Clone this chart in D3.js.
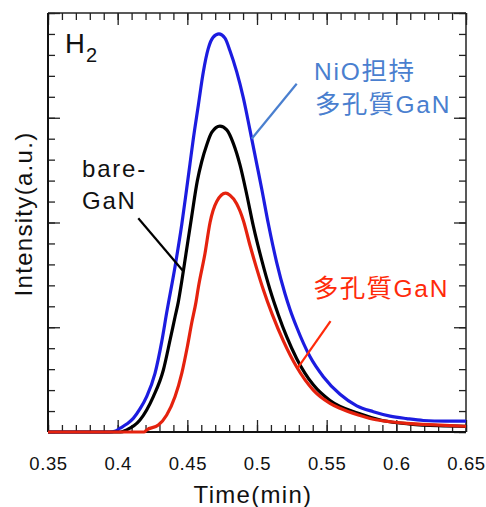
<!DOCTYPE html>
<html>
<head>
<meta charset="utf-8">
<script src="https://cdn.jsdelivr.net/npm/d3@7"></script>
<style>
  html, body { margin: 0; padding: 0; background: #fff; }
  svg { display: block; }
  text { font-family: "Liberation Sans", Arial, "Noto Sans CJK JP", sans-serif; }
</style>
</head>
<body>
<svg id="chart" width="486" height="507"></svg>
<script>
// H2 desorption profiles: [time (min), intensity (a.u.)]
const nioPorousGaN = [
  [0.35, 0], [0.394, 0], [0.3985, 0.05], [0.4017, 0.18], [0.4065, 0.38], [0.4112, 0.65],
  [0.416, 1.1], [0.4208, 1.69], [0.4268, 2.8], [0.4316, 4.3], [0.4352, 5.7], [0.4412, 7.9],
  [0.446, 9.9], [0.4495, 11.6], [0.4519, 12.8], [0.4543, 14.0], [0.4579, 15.6], [0.4615, 17.2],
  [0.465, 18.3], [0.4686, 18.85], [0.4727, 19.0], [0.477, 18.8], [0.4806, 18.2], [0.4854, 17.2],
  [0.4902, 15.95], [0.495, 14.4], [0.4998, 12.8], [0.5034, 11.6], [0.5081, 9.95], [0.5141, 8.1],
  [0.5201, 6.6], [0.5237, 5.85], [0.5285, 5.0], [0.538, 3.6], [0.5476, 2.64], [0.5596, 1.8],
  [0.5716, 1.25], [0.5835, 0.97], [0.5955, 0.76], [0.6074, 0.64], [0.6194, 0.55], [0.635, 0.52],
  [0.65, 0.52]
];
const bareGaN = [
  [0.35, 0], [0.402, 0], [0.4065, 0.1], [0.416, 0.57], [0.4256, 1.69], [0.4328, 2.96],
  [0.4376, 4.39], [0.4412, 5.5], [0.4435, 6.2], [0.446, 7.2], [0.449, 8.5], [0.4531, 10.28],
  [0.4572, 12.0], [0.4603, 12.9], [0.4639, 13.7], [0.4675, 14.3], [0.4734, 14.6], [0.4783, 14.42],
  [0.483, 13.78], [0.4878, 12.75], [0.4926, 11.35], [0.4973, 9.85], [0.5034, 8.2], [0.5093, 6.8],
  [0.5153, 5.6], [0.5213, 4.55], [0.5285, 3.5], [0.5404, 2.25], [0.5524, 1.5], [0.5727, 0.89],
  [0.59, 0.55], [0.61, 0.38], [0.63, 0.3], [0.65, 0.27]
];
const porousGaN = [
  [0.35, 0], [0.419, 0], [0.4208, 0.1], [0.4292, 0.33], [0.4352, 0.81], [0.4412, 1.69],
  [0.446, 2.8], [0.45, 4.07], [0.4531, 5.19], [0.4562, 6.2], [0.4579, 6.9], [0.4627, 8.53],
  [0.4663, 10.0], [0.4711, 11.0], [0.4775, 11.4], [0.4806, 11.3], [0.4854, 10.9], [0.4878, 10.55],
  [0.4902, 10.1], [0.495, 8.9], [0.4998, 7.8], [0.5045, 6.8], [0.511, 5.6], [0.5189, 4.35],
  [0.5285, 3.1], [0.5404, 2.0], [0.5524, 1.37], [0.5596, 1.13], [0.5727, 0.81], [0.5835, 0.61],
  [0.5955, 0.49], [0.6074, 0.41], [0.6313, 0.33], [0.65, 0.27]
];

const xMajorTicks = [0.35, 0.4, 0.45, 0.5, 0.55, 0.6, 0.65];
const xTickLabels = ["0.35", "0.4", "0.45", "0.5", "0.55", "0.6", "0.65"];
const xMinorTicks = d3.range(35, 66).map(d => d / 100);
const yMajorTicks = [0, 5, 10, 15, 20];
const yMinorTicks = d3.range(0, 21);

const svg = d3.select("#chart");
const margin = { left: 48, top: 13, right: 20, bottom: 75 };
const W = 486 - margin.left - margin.right;
const H = 507 - margin.top - margin.bottom;

const x = d3.scaleLinear().domain([0.35, 0.65]).range([0, W]);
const y = d3.scaleLinear().domain([0, 20]).range([H, 0]);

const g = svg.append("g").attr("transform", `translate(${margin.left},${margin.top})`);

// inward-pointing ticks on all four sides
function styleAxis(sel) {
  sel.select(".domain").remove();
  sel.selectAll(".tick line").attr("stroke", "#222").attr("stroke-width", 1.3);
}
const majorLen = 12, minorLen = 7;
g.append("g").attr("transform", `translate(0,${H})`)
  .call(d3.axisBottom(x).tickValues(xMinorTicks).tickSizeInner(-minorLen).tickSizeOuter(0).tickFormat(""))
  .call(styleAxis);
const xAxis = g.append("g").attr("transform", `translate(0,${H})`)
  .call(d3.axisBottom(x).tickValues(xMajorTicks).tickSizeInner(-majorLen).tickSizeOuter(0)
    .tickPadding(25).tickFormat((d, i) => xTickLabels[i]))
  .call(styleAxis);
xAxis.selectAll(".tick text")
  .attr("font-size", 18.5).attr("fill", "#111").attr("letter-spacing", "0.6px")
  .style("font-family", '"Liberation Sans", Arial, sans-serif');

g.append("g")
  .call(d3.axisTop(x).tickValues(xMinorTicks).tickSizeInner(-minorLen).tickSizeOuter(0).tickFormat(""))
  .call(styleAxis);
g.append("g")
  .call(d3.axisTop(x).tickValues(xMajorTicks).tickSizeInner(-majorLen).tickSizeOuter(0).tickFormat(""))
  .call(styleAxis);

g.append("g")
  .call(d3.axisLeft(y).tickValues(yMinorTicks).tickSizeInner(-minorLen).tickSizeOuter(0).tickFormat(""))
  .call(styleAxis);
g.append("g")
  .call(d3.axisLeft(y).tickValues(yMajorTicks).tickSizeInner(-majorLen).tickSizeOuter(0).tickFormat(""))
  .call(styleAxis);
g.append("g").attr("transform", `translate(${W},0)`)
  .call(d3.axisRight(y).tickValues(yMinorTicks).tickSizeInner(-minorLen).tickSizeOuter(0).tickFormat(""))
  .call(styleAxis);
g.append("g").attr("transform", `translate(${W},0)`)
  .call(d3.axisRight(y).tickValues(yMajorTicks).tickSizeInner(-majorLen).tickSizeOuter(0).tickFormat(""))
  .call(styleAxis);

// plot frame
g.append("line").attr("x1", 0).attr("x2", W).attr("y1", 0).attr("y2", 0)
  .attr("stroke", "#222").attr("stroke-width", 1.3);
g.append("line").attr("x1", W).attr("x2", W).attr("y1", 0).attr("y2", H)
  .attr("stroke", "#222").attr("stroke-width", 1.5);
g.append("line").attr("x1", 0).attr("x2", 0).attr("y1", 0).attr("y2", H)
  .attr("stroke", "#111").attr("stroke-width", 2);
g.append("line").attr("x1", 0).attr("x2", W).attr("y1", H).attr("y2", H)
  .attr("stroke", "#111").attr("stroke-width", 2);

// curves
const line = d3.line().x(d => x(d[0])).y(d => y(d[1])).curve(d3.curveMonotoneX);
const series = [
  { data: nioPorousGaN, color: "#1c1ce0" },
  { data: bareGaN, color: "#000000" },
  { data: porousGaN, color: "#e5220e" }
];
g.selectAll("path.curve").data(series).enter().append("path")
  .attr("class", "curve")
  .attr("d", d => line(d.data))
  .attr("fill", "none")
  .attr("stroke", d => d.color)
  .attr("stroke-width", 3.2)
  .attr("stroke-linejoin", "round");

// leader lines: each ends on its curve at time t
function valueAt(data, t) {
  for (let i = 1; i < data.length; i++) {
    if (data[i][0] >= t) {
      const [t0, v0] = data[i - 1], [t1, v1] = data[i];
      return v0 + (v1 - v0) * (t - t0) / (t1 - t0);
    }
  }
  return data[data.length - 1][1];
}
function leader(data, t, dx, dy, color) {
  const px = x(t), py = y(valueAt(data, t));
  g.append("line").attr("x1", px + dx).attr("y1", py + dy).attr("x2", px).attr("y2", py)
    .attr("stroke", color).attr("stroke-width", 2.2);
}
leader(nioPorousGaN, 0.4962, 45, -55, "#4a7fcf");
leader(bareGaN, 0.4471, -45, -53, "#000");
leader(porousGaN, 0.5291, 33, -47, "#ff2a0a");

// labels: Latin runs and CJK runs sized separately
const labelFont = '"Liberation Sans", Arial, "Noto Sans CJK JP", sans-serif';
function label(txt, px, py, size, color) {
  const t = svg.append("text").attr("x", px).attr("y", py).attr("fill", color)
    .style("font-family", labelFont);
  const runs = txt.match(/[\u3000-\u9fff]+|[^\u3000-\u9fff]+/g);
  runs.forEach(r => {
    const cjk = /[\u3000-\u9fff]/.test(r);
    t.append("tspan").text(r)
      .attr("font-size", cjk ? size + 1 : size)
      .attr("letter-spacing", (cjk ? 1.3 : 1.8) + "px");
  });
  return t;
}
const h2 = svg.append("text").attr("x", 65).attr("y", 53).attr("fill", "#111")
  .style("font-family", labelFont).attr("font-size", 27.5);
h2.append("tspan").text("H");
h2.append("tspan").attr("font-size", 20).attr("dy", 8.5).attr("dx", 1).text("2");

label("bare-", 82, 176.5, 24, "#111");
label("GaN", 82, 208.5, 24, "#111");
label("NiO担持", 314, 80, 24.5, "#4a7fcf");
label("多孔質GaN", 315, 113, 24.5, "#4a7fcf");
label("多孔質GaN", 313, 296.5, 24.5, "#ff2a0a");

// axis titles
svg.append("text").attr("x", margin.left + x(0.5) - 4).attr("y", 503)
  .attr("text-anchor", "middle").attr("font-size", 24).attr("fill", "#111")
  .attr("letter-spacing", "1.3px").style("font-family", labelFont).text("Time(min)");
svg.append("text").attr("transform", "translate(32,214) rotate(-90)")
  .attr("text-anchor", "middle").attr("font-size", 24).attr("fill", "#111")
  .attr("letter-spacing", "1.3px").style("font-family", labelFont).text("Intensity(a.u.)");
</script>
</body>
</html>
